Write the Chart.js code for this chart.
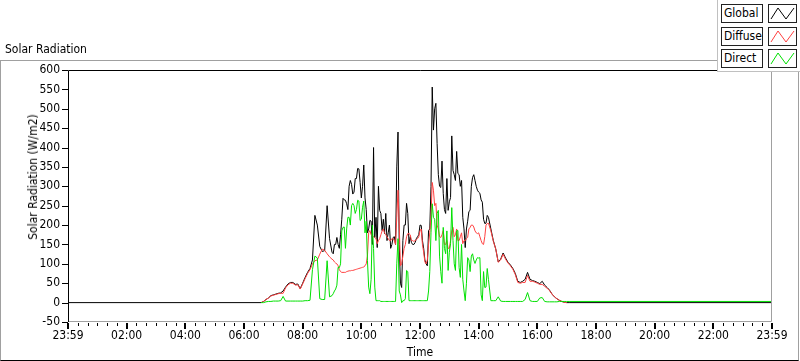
<!DOCTYPE html>
<html><head><meta charset="utf-8">
<script src="https://cdn.jsdelivr.net/npm/chart.js@4"></script>
<style>
html,body{margin:0;padding:0;background:#fff;}
body{width:800px;height:361px;position:relative;overflow:hidden;font-family:'DejaVu Sans Condensed','Liberation Sans',sans-serif;font-size:12px;color:#000;}
#frame{position:absolute;left:0;top:60px;width:797px;height:299px;border-top:1px solid #a0a0a0;border-left:1px solid #a0a0a0;border-right:1px solid #a0a0a0;border-bottom:1px solid #000;}
#cv{position:absolute;left:0;top:0;}
#title{position:absolute;left:5px;top:42px;white-space:nowrap;}
#ytitle{position:absolute;left:33px;top:177px;transform:translate(-50%,-50%) rotate(-90deg);white-space:nowrap;}
#legend{position:absolute;left:717px;top:0;width:83px;height:71px;background:#fff;border-left:1px solid #c0c0c0;border-bottom:1px solid #c0c0c0;}
.item{position:absolute;left:3px;height:19px;width:78px;}
.lbl{position:absolute;left:0;top:0;width:38px;height:17px;border:1px solid #222;line-height:17px;padding-left:2px;background:#fff;}
.sw{position:absolute;left:47px;top:0;width:27px;height:17px;border:1px solid #222;background:#fff;}
.sw svg{display:block;}
</style>
</head><body>
<div id="frame"></div>
<canvas id="cv" width="800" height="361"></canvas>
<div id="title">Solar Radiation</div>
<div id="ytitle">Solar Radiation (W/m2)</div>
<div id="legend">
  <div class="item" style="top:4px"><div class="lbl">Global</div><div class="sw"><svg width="27" height="17"><polyline points="2,14 9,3 17,14 25,3" fill="none" stroke="#000" stroke-width="1"/></svg></div></div>
  <div class="item" style="top:27px"><div class="lbl">Diffuse</div><div class="sw"><svg width="27" height="17"><polyline points="2,14 9,3 17,14 25,3" fill="none" stroke="#ff4040" stroke-width="1"/></svg></div></div>
  <div class="item" style="top:49px"><div class="lbl">Direct</div><div class="sw"><svg width="27" height="17"><polyline points="2,14 9,3 17,14 25,3" fill="none" stroke="#00e000" stroke-width="1"/></svg></div></div>
</div>
<script>
// time of day in minutes
const timeMinutes = [0,
395,400,405,410,415,420,425,430,435,440,445,450,455,460,465,470,475,480,485,490,495,500,505,510,515,520,525,530,535,
540,542.5,545,547.5,550,552.5,555,557.5,560,562.5,565,567.5,570,572.5,575,577.5,580,582.5,585,587.5,590,592.5,595,597.5,
600,602.5,605,607.5,610,612.5,615,617.5,620,622.5,625,627.5,630,632.5,635,637.5,640,642.5,645,647.5,650,652.5,655,657.5,660,662.5,665,667.5,670,672.5,675,677.5,680,682.5,685,687.5,690,692.5,695,697.5,
700,702.5,705,707.5,710,712.5,715,717.5,720,722.5,725,727.5,730,732.5,735,737.5,740,742.5,745,747.5,750,752.5,755,757.5,760,762.5,765,767.5,770,772.5,775,777.5,780,782.5,785,787.5,790,792.5,795,797.5,
800,802.5,805,807.5,810,812.5,815,817.5,820,822.5,825,827.5,830,832.5,835,837.5,840,842.5,845,847.5,850,852.5,855,857.5,860,
865,870,875,880,885,890,895,900,905,910,915,920,925,930,935,940,945,950,955,960,965,970,975,980,985,990,995,1000,1005,1010,1015,1020,1025,
1440];

const globalRad = [0,
0,3,8,12,18,20,22,24,25,30,40,48,52,52,47,48,36,50,65,78,88,110,225,200,145,132,134,250,165,
130,126,150,150,168,150,140,175,215,269,265,264,255,240,300,315,305,280,285,320,320,346,345,310,
270,300,355,270,240,180,190,212,210,150,400,168,220,142,300,238,230,186,215,178,230,160,180,200,140,150,168,170,150,350,440,150,50,39,160,200,200,256,230,152,
170,155,150,150,155,165,170,175,200,199,160,140,110,100,95,186,190,300,556,445,500,514,410,330,300,297,365,282,240,230,320,238,260,271,430,341,330,315,390,333,
330,300,315,220,190,142,190,210,235,238,300,323,330,315,300,290,285,282,265,259,215,204,205,225,220,
190,160,138,105,112,128,115,104,97,88,75,55,52,55,60,78,60,57,55,52,49,55,45,39,32,22,15,10,6,3,1,0,0,
0];

const diffuseRad = [null,
0,3,8,12,17,19,21,23,24,24,38,46,50,50,45,46,35,48,62,75,85,100,108,110,125,138,135,126,118,
112,110,105,102,100,95,85,80,78,78,78,78,80,81,82,82,83,83,84,85,86,87,88,89,
90,91,92,95,100,120,180,186,175,172,170,168,165,152,160,165,175,185,190,180,175,170,165,160,160,165,165,160,150,220,290,200,95,100,120,140,150,170,178,178,
175,160,160,158,160,162,165,170,185,190,150,130,105,100,110,150,180,220,310,290,250,256,200,190,170,168,175,186,150,150,160,140,140,160,185,194,170,175,190,160,
160,170,180,152,160,160,165,168,190,194,200,200,195,185,180,178,180,170,160,152,150,170,200,204,205,
185,158,138,104,110,125,112,102,95,86,72,52,50,52,52,70,55,55,53,50,47,47,42,37,31,22,15,10,6,3,1,0,null,
null];

const directRad = [null,
0,0,2,3,3,4,4,4,5,16,4,4,4,4,4,4,4,4,5,5,6,85,120,115,10,8,8,108,15,
18,23,30,35,45,91,90,100,185,194,195,140,190,220,220,200,250,256,250,230,240,264,262,212,
215,246,262,180,210,109,40,23,60,200,140,40,5,5,5,5,3,3,3,3,3,3,3,3,3,3,3,3,3,100,165,30,20,0,5,5,10,83,80,5,
5,5,5,5,5,5,5,5,5,5,5,5,5,5,5,30,80,180,255,220,215,160,230,238,120,80,50,194,140,126,185,83,130,152,245,160,100,83,185,186,
90,65,150,60,30,5,50,116,110,80,120,126,110,101,110,116,115,116,20,5,80,39,40,88,60,
5,5,5,15,4,3,3,3,3,3,3,3,3,3,8,26,5,3,3,3,12,13,3,2,2,2,2,2,3,3,3,3,3,
3];

const seriesNames = ['Global','Diffuse','Direct'];
const xTickLabels = ['23:59','02:00','04:00','06:00','08:00','10:00','12:00','14:00','16:00','18:00','20:00','22:00','23:59'];

const toPts = arr => arr.map((v,i)=>({x:timeMinutes[i], y:v}));

const decor = {
  id:'decor',
  afterDraw(chart){
    const {ctx, chartArea:a, scales:{x,y}} = chart;
    ctx.save();
    ctx.lineWidth = 1;
    ctx.strokeStyle = '#000';
    ctx.beginPath();
    ctx.moveTo(a.left+0.5, a.bottom); ctx.lineTo(a.left+0.5, a.top+0.5); ctx.lineTo(a.right, a.top+0.5);
    ctx.stroke();
    ctx.strokeStyle = '#a0a0a0';
    ctx.beginPath();
    ctx.moveTo(a.right-0.5, a.top+1); ctx.lineTo(a.right-0.5, a.bottom-0.5); ctx.lineTo(a.left+1, a.bottom-0.5);
    ctx.stroke();
    ctx.strokeStyle = '#000';
    y.ticks.forEach(t=>{
      const py = Math.round(y.getPixelForValue(t.value)) + 0.5;
      ctx.beginPath(); ctx.moveTo(a.left-6, py); ctx.lineTo(a.left, py); ctx.stroke();
    });
    ctx.fillStyle = '#000';
    for (let m = 0; m <= 1440; m += 20) {
      const px = Math.round(x.getPixelForValue(m));
      const major = (m % 120 === 0);
      if (major) ctx.fillRect(px-1, a.bottom+1, 2, 6);
      else ctx.fillRect(px, a.bottom+1, 1, 3);
    }
    ctx.restore();
  }
};

new Chart(document.getElementById('cv'), {
  type:'line',
  data:{
    datasets:[
      {label:seriesNames[0], data:toPts(globalRad), borderColor:'#000000', borderWidth:1, pointRadius:0, order:3, spanGaps:false},
      {label:seriesNames[1], data:toPts(diffuseRad), borderColor:'#ff4040', borderWidth:1, pointRadius:0, order:2, spanGaps:false},
      {label:seriesNames[2], data:toPts(directRad), borderColor:'#00e000', borderWidth:1, pointRadius:0, order:1, spanGaps:false}
    ]
  },
  options:{
    responsive:false,
    animation:false,
    devicePixelRatio:1,
    layout:{padding:{left:0, top:70, right:28, bottom:1}},
    plugins:{legend:{display:false}, tooltip:{enabled:false}, title:{display:false}},
    elements:{line:{tension:0}},
    scales:{
      x:{
        type:'linear', min:0, max:1440,
        grid:{display:false, drawTicks:false},
        border:{display:false},
        ticks:{stepSize:120, autoSkip:false, maxRotation:0, padding:7, color:'#000',
          font:{family:"'DejaVu Sans Condensed','Liberation Sans',sans-serif", size:12},
          callback:(v)=>xTickLabels[Math.round(v/120)]},
        title:{display:true, text:'Time', color:'#000', padding:{top:0,bottom:0},
          font:{family:"'DejaVu Sans Condensed','Liberation Sans',sans-serif", size:12}},
        afterFit:(s)=>{s.height = 38;}
      },
      y:{
        type:'linear', min:-50, max:600,
        grid:{display:false, drawTicks:false},
        border:{display:false},
        ticks:{stepSize:50, padding:8, color:'#000',
          font:{family:"'DejaVu Sans Condensed','Liberation Sans',sans-serif", size:12}},
        afterFit:(s)=>{s.width = 68;}
      }
    }
  },
  plugins:[decor]
});
</script>
</body></html>
